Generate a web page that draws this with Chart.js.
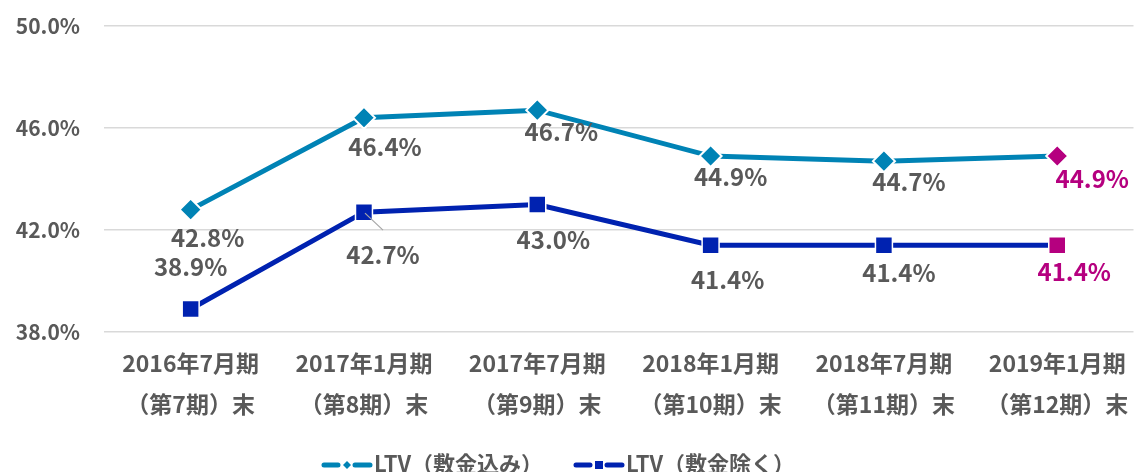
<!DOCTYPE html>
<html lang="ja">
<head>
<meta charset="UTF-8">
<title>LTV推移</title>
<script src="https://cdn.jsdelivr.net/npm/chart.js"></script>
<style>
  html, body { margin: 0; padding: 0; background: #fff; }
  .chart-container { position: relative; width: 1147px; height: 472px; }
</style>
</head>
<body>
<div class="chart-container"><canvas id="ltvChart"></canvas></div>
<script>
// データ
const periods = [
  ['2016年7月期', '（第7期）末'],
  ['2017年1月期', '（第8期）末'],
  ['2017年7月期', '（第9期）末'],
  ['2018年1月期', '（第10期）末'],
  ['2018年7月期', '（第11期）末'],
  ['2019年1月期', '（第12期）末']
];
const ltvWithDeposit = [42.8, 46.4, 46.7, 44.9, 44.7, 44.9];
const ltvWithoutDeposit = [38.9, 42.7, 43.0, 41.4, 41.4, 41.4];
const yTicks = [38, 42, 46, 50];
const seriesNames = ['LTV（敷金込み）', 'LTV（敷金除く）'];

const FONT = "'Noto Sans CJK JP', 'Noto Sans', sans-serif";
const TEAL = '#0083b5';
const NAVY = '#0022b0';
const MAGENTA = '#b5007f';
const GREY = '#595959';
const X_MIN = -0.5, X_MAX = 5.44;

const lastColor = (base, n) => Array.from({ length: n }, (_, i) => i === n - 1 ? MAGENTA : base);

// ラベル位置の調整（点からのずれ）
const labelOffsets = [
  [[17, 28], [21, 29], [24, 22], [20, 21], [25, 21], [35, 23]],
  [[0, -42], [19, 43], [16, 35], [17, 35], [15, 28], [17, 27]]
];

const labelPlugin = {
  id: 'pointLabels',
  afterDatasetsDraw(chart) {
    const ctx = chart.ctx;
    ctx.save();
    ctx.font = 'bold 24px ' + FONT;
    ctx.textAlign = 'center';
    ctx.textBaseline = 'middle';
    chart.data.datasets.forEach((ds, di) => {
      const meta = chart.getDatasetMeta(di);
      meta.data.forEach((pt, i) => {
        const [dx, dy] = labelOffsets[di][i];
        // 引出線 (42.7%)
        if (di === 1 && i === 1) {
          ctx.strokeStyle = '#a6a6a6';
          ctx.lineWidth = 1.2;
          ctx.beginPath();
          ctx.moveTo(pt.x + 1, pt.y + 1);
          ctx.lineTo(pt.x + 19, pt.y + 18);
          ctx.stroke();
        }
        ctx.fillStyle = i === ds.data.length - 1 ? MAGENTA : GREY;
        ctx.fillText(ds.data[i].y.toFixed(1) + '%', pt.x + dx, pt.y + dy);
      });
    });
    ctx.restore();
  },
  afterDraw(chart) {
    // 凡例
    const ctx = chart.ctx;
    const y = 465;
    ctx.save();
    ctx.lineCap = 'round';
    ctx.lineWidth = 5;
    const items = [
      { x: 323, color: TEAL, marker: 'diamond', text: seriesNames[0] },
      { x: 575, color: NAVY, marker: 'square', text: seriesNames[1] }
    ];
    items.forEach(it => {
      ctx.strokeStyle = it.color;
      ctx.beginPath();
      ctx.moveTo(it.x + 1, y); ctx.lineTo(it.x + 15, y);
      ctx.moveTo(it.x + 32, y); ctx.lineTo(it.x + 47, y);
      ctx.stroke();
      ctx.fillStyle = it.color;
      const cx = it.x + 24;
      if (it.marker === 'diamond') {
        ctx.beginPath();
        ctx.moveTo(cx, y - 4); ctx.lineTo(cx + 4, y); ctx.lineTo(cx, y + 4); ctx.lineTo(cx - 4, y);
        ctx.closePath(); ctx.fill();
      } else {
        ctx.fillRect(cx - 4, y - 4, 8, 8);
      }
      ctx.fillStyle = GREY;
      ctx.font = 'bold 22px ' + FONT;
      ctx.textAlign = 'left';
      ctx.textBaseline = 'middle';
      ctx.fillText(it.text, it.x + 51, y - 1);
    });
    ctx.restore();
  }
};

const ctx = document.getElementById('ltvChart').getContext('2d');
const ltvChart = new Chart(ctx, {
  type: 'line',
  data: {
    datasets: [
      {
        label: seriesNames[0],
        data: ltvWithDeposit.map((v, i) => ({ x: i, y: v })),
        borderColor: TEAL,
        borderWidth: 5,
        pointStyle: 'rectRot',
        pointRadius: 11,
        pointBackgroundColor: lastColor(TEAL, ltvWithDeposit.length),
        pointBorderColor: '#ffffff',
        pointBorderWidth: 2,
        tension: 0
      },
      {
        label: seriesNames[1],
        data: ltvWithoutDeposit.map((v, i) => ({ x: i, y: v })),
        borderColor: NAVY,
        borderWidth: 5,
        pointStyle: 'rect',
        pointRadius: 12,
        pointBackgroundColor: lastColor(NAVY, ltvWithoutDeposit.length),
        pointBorderColor: '#ffffff',
        pointBorderWidth: 1.5,
        tension: 0
      }
    ]
  },
  options: {
    responsive: true,
    maintainAspectRatio: false,
    animation: false,
    layout: { padding: { top: 26, right: 0, bottom: 0, left: 0 } },
    scales: {
      x: {
        type: 'linear',
        bounds: 'data',
        min: X_MIN,
        max: X_MAX,
        grid: { display: false },
        border: { display: false },
        afterBuildTicks(scale) {
          scale.ticks = periods.map((_, i) => ({ value: i }));
          scale.min = X_MIN;
          scale.max = X_MAX;
        },
        afterFit(scale) {
          scale.height = 140;
          scale.paddingLeft = 0;
          scale.paddingRight = 0;
        },
        ticks: {
          autoSkip: false,
          maxRotation: 0,
          padding: 3,
          color: GREY,
          font: { family: FONT, size: 23, weight: 'bold', lineHeight: 1.78 },
          callback: (v) => periods[v]
        }
      },
      y: {
        min: 38,
        max: 50,
        afterBuildTicks(scale) {
          scale.ticks = yTicks.map(v => ({ value: v }));
        },
        afterFit(scale) {
          scale.width = 104;
          scale.paddingTop = 0;
          scale.paddingBottom = 0;
        },
        border: { display: false },
        grid: { color: '#d9d9d9', lineWidth: 1.5, drawTicks: false },
        ticks: {
          padding: 24,
          color: GREY,
          font: { family: FONT, size: 21, weight: 'bold' },
          callback: (v) => v.toFixed(1) + '%'
        }
      }
    },
    plugins: {
      legend: { display: false },
      tooltip: { enabled: false }
    }
  },
  plugins: [labelPlugin]
});
</script>
</body>
</html>
